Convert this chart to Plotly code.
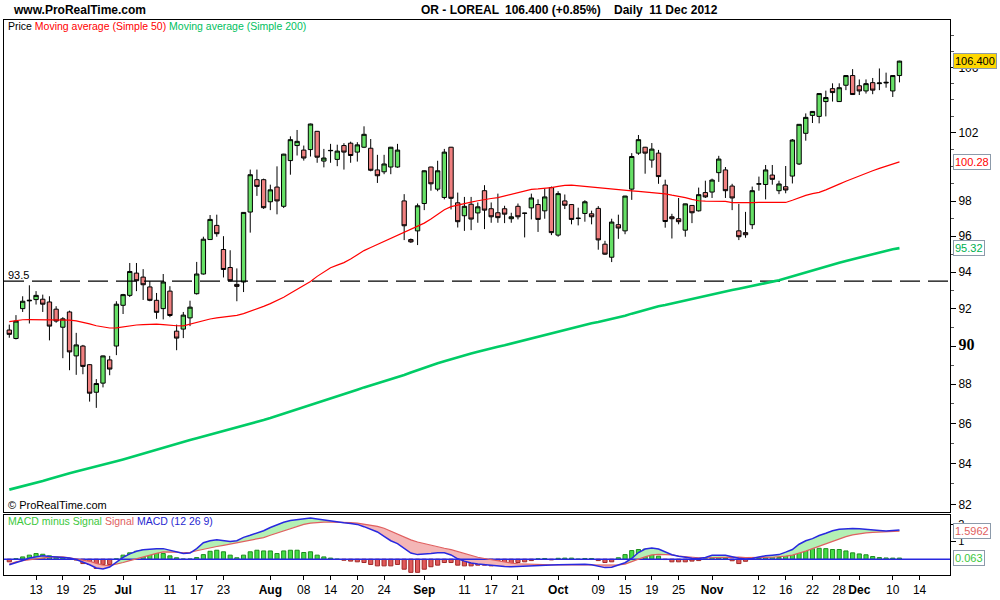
import math
import plotly.graph_objects as go

# ---------------- data ----------------
opens = [90.85, 90.40, 92.00, 92.42, 92.49, 92.51, 92.36, 91.97, 91.00, 91.82,
         89.48, 90.00, 89.02, 87.59, 88.06, 89.27, 90.00, 92.18, 92.72, 93.94,
         93.72, 93.18, 92.45, 92.00, 92.95, 90.79, 90.90, 91.50, 92.81, 93.89,
         95.81, 96.61, 95.25, 94.25, 93.32, 93.45, 97.37, 99.24, 99.24, 97.96,
         98.81, 97.70, 100.36, 101.25, 100.98, 101.01, 102.10, 100.33, 100.94, 100.43,
         101.25, 101.39, 100.86, 101.15, 101.09, 99.81, 99.70, 99.98, 99.98, 98.01,
         95.81, 96.30, 97.86, 99.98, 98.69, 98.21, 101.15, 97.90, 97.16, 97.82,
         97.32, 98.60, 97.56, 97.33, 97.56, 96.99, 97.70, 97.31, 97.61, 97.80,
         97.44, 98.78, 96.06, 98.01, 97.80, 97.00, 97.29, 97.27, 97.58, 95.55,
         94.82, 96.65, 96.30, 98.69, 100.80, 101.15, 100.39, 100.80, 98.93, 97.10,
         96.99, 96.34, 97.75, 97.44, 98.49, 98.52, 99.65, 99.81, 98.87, 96.30,
         96.20, 96.65, 98.98, 98.96, 99.51, 98.60, 98.83, 99.45, 100.16, 101.98,
         103.06, 103.00, 103.90, 104.69, 103.90, 104.90, 105.50, 104.87, 104.55, 105.06,
         105.00, 105.04, 104.55, 105.50]
highs = [91.14, 91.65, 92.67, 93.27, 92.95, 92.76, 92.67, 92.13, 91.54, 91.89,
         90.70, 90.06, 89.05, 88.27, 89.50, 89.48, 92.40, 92.80, 94.50, 94.50,
         94.16, 93.50, 92.85, 93.89, 93.22, 91.14, 91.82, 92.43, 94.56, 95.97,
         97.20, 97.22, 96.00, 95.21, 94.20, 97.36, 99.83, 99.83, 99.30, 98.95,
         100.02, 100.76, 101.80, 102.18, 101.25, 102.56, 102.12, 101.05, 101.35, 101.30,
         101.39, 101.48, 101.45, 102.40, 101.64, 100.70, 100.70, 101.17, 101.35, 98.40,
         95.87, 97.86, 99.78, 100.00, 100.35, 101.05, 101.17, 98.49, 98.24, 98.24,
         97.92, 98.92, 97.92, 98.43, 97.73, 97.33, 97.86, 97.33, 98.43, 98.10,
         98.72, 98.84, 98.57, 98.38, 97.82, 97.62, 98.05, 97.45, 97.71, 95.74,
         96.99, 97.22, 98.30, 100.80, 101.88, 101.17, 101.40, 100.99, 99.24, 97.27,
         98.18, 97.85, 97.76, 98.78, 99.18, 99.30, 100.64, 99.98, 99.00, 97.84,
         97.38, 98.84, 99.42, 100.10, 100.10, 99.18, 100.04, 101.64, 102.53, 103.18,
         103.32, 104.40, 104.57, 105.02, 105.02, 105.52, 105.90, 105.26, 105.26, 105.35,
         105.94, 105.68, 105.52, 106.42]
lows = [90.44, 90.35, 91.82, 91.20, 92.22, 91.82, 90.30, 91.24, 89.36, 88.73,
        88.49, 88.52, 87.11, 86.79, 87.84, 88.47, 89.52, 91.71, 92.63, 92.95,
        92.47, 92.40, 91.45, 91.42, 91.54, 89.78, 90.42, 91.06, 92.76, 93.86,
        95.80, 95.97, 93.70, 93.49, 92.40, 92.90, 96.20, 98.30, 97.55, 97.48,
        97.24, 97.60, 99.53, 100.66, 100.36, 100.60, 100.23, 99.96, 100.23, 100.03,
        99.83, 100.23, 100.30, 101.10, 99.73, 99.05, 99.56, 99.56, 99.94, 95.78,
        95.62, 95.50, 97.48, 98.60, 98.57, 98.10, 97.52, 96.49, 96.30, 96.34,
        96.76, 96.40, 96.76, 96.76, 96.74, 96.76, 96.95, 95.93, 96.95, 96.24,
        96.99, 96.06, 95.97, 97.54, 96.67, 96.61, 96.82, 96.67, 95.24, 94.95,
        94.55, 95.85, 96.11, 98.07, 100.70, 99.59, 99.94, 99.00, 96.48, 95.87,
        96.67, 95.97, 96.74, 97.40, 98.18, 98.18, 99.11, 98.18, 97.48, 95.78,
        95.91, 96.40, 98.60, 98.10, 98.95, 98.40, 98.45, 99.02, 100.10, 101.54,
        102.60, 102.58, 103.00, 103.90, 103.88, 104.60, 104.30, 104.30, 104.39, 104.35,
        104.60, 104.75, 104.18, 105.08]
closes = [90.62, 91.33, 92.40, 92.45, 92.72, 92.24, 91.06, 91.33, 91.45, 89.69,
          90.06, 88.93, 87.54, 88.04, 89.48, 88.79, 92.24, 92.76, 94.03, 93.52,
          93.30, 92.45, 91.80, 93.45, 91.63, 90.42, 91.65, 92.08, 93.89, 95.83,
          96.95, 96.14, 94.14, 93.52, 93.21, 97.35, 99.53, 98.85, 97.62, 98.65,
          98.01, 100.74, 101.60, 101.50, 100.51, 102.54, 100.56, 100.51, 100.96, 100.92,
          100.86, 100.66, 101.29, 101.92, 99.79, 99.47, 100.16, 101.15, 100.98, 96.59,
          95.68, 97.73, 99.76, 99.00, 99.76, 100.86, 98.16, 96.82, 97.70, 96.97,
          97.67, 97.48, 97.10, 97.05, 97.25, 97.10, 97.10, 97.30, 98.18, 96.95,
          98.24, 96.20, 98.43, 97.76, 96.95, 97.02, 97.96, 97.10, 95.79, 94.99,
          96.80, 96.46, 98.29, 100.60, 101.60, 100.80, 101.04, 99.42, 96.83, 96.99,
          96.82, 97.84, 97.33, 98.37, 98.24, 99.22, 100.45, 98.60, 98.18, 95.97,
          96.08, 98.60, 99.00, 99.81, 99.26, 98.99, 98.64, 101.58, 102.52, 102.94,
          103.30, 104.39, 104.15, 104.45, 104.75, 105.50, 104.33, 104.55, 105.00, 104.60,
          105.04, 105.08, 105.50, 106.40]
ma50 = [91.30, 91.36, 91.40, 91.41, 91.41, 91.41, 91.41, 91.40, 91.40, 91.38,
        91.34, 91.28, 91.18, 91.08, 91.00, 90.96, 90.97, 91.03, 91.09, 91.12,
        91.14, 91.16, 91.17, 91.14, 91.10, 91.08, 91.07, 91.17, 91.27, 91.36,
        91.44, 91.50, 91.54, 91.58, 91.64, 91.73, 91.85, 92.00, 92.12, 92.27,
        92.43, 92.62, 92.83, 93.04, 93.24, 93.48, 93.76, 94.02, 94.24, 94.38,
        94.52, 94.72, 94.96, 95.19, 95.36, 95.53, 95.70, 95.88, 96.06, 96.22,
        96.40, 96.55, 96.74, 96.98, 97.22, 97.50, 97.68, 97.78, 97.86, 97.94,
        98.02, 98.10, 98.15, 98.20, 98.30, 98.40, 98.50, 98.62, 98.68, 98.70,
        98.72, 98.78, 98.85, 98.91, 98.92, 98.88, 98.85, 98.82, 98.78, 98.73,
        98.67, 98.64, 98.62, 98.59, 98.56, 98.53, 98.50, 98.47, 98.42, 98.34,
        98.28, 98.20, 98.10, 98.02, 98.00, 97.99, 97.99, 97.98, 97.91, 97.90,
        97.90, 97.91, 97.92, 97.92, 97.92, 97.92, 97.92, 98.05, 98.20, 98.33,
        98.43, 98.50, 98.65, 98.80, 98.98, 99.15, 99.31, 99.47, 99.62, 99.76,
        99.90, 100.04, 100.18, 100.28]
ma200 = [82.72, 82.80, 82.88, 82.96, 83.04, 83.14, 83.24, 83.34, 83.44, 83.52,
         83.60, 83.68, 83.76, 83.84, 83.93, 84.02, 84.11, 84.20, 84.30, 84.40,
         84.50, 84.60, 84.70, 84.80, 84.90, 84.98, 85.08, 85.17, 85.26, 85.35,
         85.43, 85.51, 85.60, 85.68, 85.77, 85.87, 85.97, 86.07, 86.17, 86.27,
         86.38, 86.49, 86.60, 86.70, 86.80, 86.91, 87.02, 87.13, 87.24, 87.36,
         87.48, 87.60, 87.72, 87.84, 87.94, 88.04, 88.14, 88.24, 88.36, 88.48,
         88.61, 88.74, 88.87, 89.00, 89.10, 89.20, 89.31, 89.41, 89.51, 89.60,
         89.70, 89.80, 89.88, 89.96, 90.04, 90.13, 90.22, 90.31, 90.40, 90.49,
         90.58, 90.67, 90.77, 90.86, 90.96, 91.05, 91.14, 91.21, 91.28, 91.36,
         91.44, 91.51, 91.62, 91.73, 91.84, 91.95, 92.06, 92.13, 92.20, 92.28,
         92.36, 92.44, 92.53, 92.62, 92.71, 92.80, 92.87, 92.94, 93.01, 93.08,
         93.15, 93.23, 93.31, 93.39, 93.47, 93.55, 93.66, 93.77, 93.88, 93.99,
         94.10, 94.21, 94.31, 94.41, 94.51, 94.61, 94.71, 94.81, 94.91, 95.00,
         95.09, 95.18, 95.27, 95.33]
macd = [-0.32, -0.22, -0.08, 0.07, 0.15, 0.19, 0.15, 0.13, 0.13, 0.07,
        -0.02, -0.15, -0.32, -0.50, -0.56, -0.45, -0.19, 0.10, 0.30, 0.45,
        0.53, 0.57, 0.60, 0.60, 0.51, 0.40, 0.33, 0.35, 0.60, 0.94,
        1.05, 1.11, 1.06, 1.00, 1.05, 1.24, 1.36, 1.47, 1.62, 1.80,
        1.95, 2.10, 2.20, 2.25, 2.30, 2.34, 2.28, 2.22, 2.17, 2.12,
        2.07, 2.03, 1.98, 1.85, 1.68, 1.55, 1.30, 1.05, 0.89, 0.60,
        0.35, 0.26, 0.27, 0.32, 0.36, 0.37, 0.24, 0.02, -0.11, -0.22,
        -0.27, -0.31, -0.36, -0.40, -0.42, -0.43, -0.42, -0.41, -0.40, -0.37,
        -0.35, -0.33, -0.31, -0.30, -0.29, -0.28, -0.29, -0.32, -0.40, -0.48,
        -0.46, -0.33, -0.20, 0.04, 0.38, 0.58, 0.64, 0.58, 0.40, 0.25,
        0.17, 0.09, 0.05, 0.04, 0.10, 0.22, 0.23, 0.22, 0.14, 0.05,
        0.01, 0.04, 0.12, 0.20, 0.23, 0.26, 0.40, 0.55, 0.85, 1.05,
        1.17, 1.35, 1.48, 1.62, 1.70, 1.74, 1.74, 1.73, 1.71, 1.67,
        1.63, 1.60, 1.62, 1.66]
signal = [-0.28, -0.15, -0.08, -0.03, 0.02, 0.08, 0.12, 0.13, 0.13, 0.08,
          0.02, -0.02, -0.12, -0.24, -0.34, -0.37, -0.30, -0.19, -0.08, 0.03,
          0.12, 0.22, 0.33, 0.42, 0.42, 0.40, 0.36, 0.39, 0.48, 0.57,
          0.64, 0.72, 0.79, 0.86, 0.92, 1.00, 1.09, 1.16, 1.23, 1.36,
          1.48, 1.60, 1.76, 1.88, 1.98, 2.05, 2.09, 2.11, 2.11, 2.11,
          2.10, 2.08, 2.05, 2.00, 1.95, 1.87, 1.76, 1.60, 1.42, 1.25,
          1.10, 0.98, 0.88, 0.78, 0.69, 0.62, 0.54, 0.43, 0.33, 0.21,
          0.11, 0.04, -0.03, -0.10, -0.15, -0.22, -0.26, -0.28, -0.30, -0.32,
          -0.34, -0.32, -0.33, -0.33, -0.32, -0.31, -0.30, -0.30, -0.31, -0.32,
          -0.32, -0.33, -0.28, -0.16, 0.00, 0.13, 0.24, 0.27, 0.27, 0.24,
          0.18, 0.14, 0.10, 0.08, 0.08, 0.09, 0.12, 0.14, 0.14, 0.12,
          0.09, 0.08, 0.08, 0.10, 0.11, 0.12, 0.17, 0.23, 0.33, 0.46,
          0.60, 0.74, 0.88, 1.02, 1.16, 1.28, 1.38, 1.45, 1.50, 1.53,
          1.55, 1.57, 1.59, 1.5962]
hist = [-0.15, 0.03, 0.13, 0.23, 0.32, 0.28, 0.19, 0.13, 0.09, 0.02,
        -0.05, -0.25, -0.30, -0.53, -0.30, -0.30, 0.02, 0.23, 0.36, 0.45,
        0.51, 0.42, 0.36, 0.32, 0.19, 0.08, 0.01, 0.01, 0.09, 0.26,
        0.45, 0.51, 0.42, 0.23, 0.08, 0.23, 0.42, 0.51, 0.47, 0.47,
        0.32, 0.47, 0.51, 0.51, 0.38, 0.42, 0.23, 0.13, 0.06, 0.00,
        -0.06, -0.11, -0.15, -0.19, -0.30, -0.38, -0.38, -0.38, -0.30, -0.57,
        -0.75, -0.75, -0.57, -0.43, -0.34, -0.19, -0.19, -0.34, -0.38, -0.38,
        -0.34, -0.34, -0.38, -0.34, -0.30, -0.25, -0.19, -0.15, -0.08, 0.02,
        0.04, -0.04, 0.05, 0.06, 0.06, 0.00, 0.04, 0.04, -0.08, -0.19,
        -0.15, 0.08, 0.26, 0.49, 0.55, 0.57, 0.42, 0.17, -0.02, -0.15,
        -0.15, -0.15, -0.11, -0.08, 0.02, 0.13, 0.09, 0.06, -0.09, -0.25,
        -0.12, 0.02, 0.06, 0.09, 0.13, 0.10, 0.20, 0.34, 0.47, 0.55,
        0.60, 0.62, 0.60, 0.55, 0.55, 0.47, 0.36, 0.30, 0.25, 0.15,
        0.09, 0.07, 0.06, 0.063]

# x-axis labels (trading-day index -> label)
tick_index = [4, 8, 12, 17, 24, 28, 32, 39, 44, 48, 52, 56, 62, 68, 72, 76, 82, 88,
              92, 96, 100, 105, 112, 116, 120, 124, 127, 132, 136]
tick_labels = ["13", "19", "25", "Jul", "11", "17", "23", "Aug", "08", "14", "20", "24",
               "Sep", "11", "17", "21", "Oct", "09", "15", "19", "25", "Nov", "12", "16",
               "22", "28", "Dec", "10", "14"]
month_labels = ["Jul", "Aug", "Sep", "Oct", "Nov", "Dec"]
price_ticks = [82, 84, 86, 88, 90, 92, 94, 96, 98, 102, 106]
price_minor = [83, 85, 87, 89, 91, 93, 95, 97, 99, 100, 101, 103, 104, 105, 107, 108]
hline_level = 93.5
last_price = 106.400
last_ma50 = 100.28
last_ma200 = 95.32
last_signal = 1.5962
last_hist = 0.063

idx = list(range(len(closes)))

# ---------------- layout helpers (pixel -> paper) ----------------
L, R, T, B = 3, 950, 20, 580
def fx(px):
    return (px - L) / (R - L)
def fy(py):
    return (B - py) / (B - T)

FONT = "Liberation Sans, Arial, sans-serif"
GREEN_C = "#66E066"
RED_C = "#F08080"
MA200_C = "#00CC66"

fig = go.Figure()

# ---- price panel ----
fig.add_trace(go.Scatter(x=[-0.79, 140.55], y=[hline_level, hline_level], mode="lines",
                         line=dict(color="black", width=1.2, dash="20px,8px"),
                         xaxis="x", yaxis="y", hoverinfo="skip"))
fig.add_trace(go.Scatter(x=idx, y=ma200, mode="lines", line=dict(color=MA200_C, width=2.6),
                         xaxis="x", yaxis="y"))
fig.add_trace(go.Scatter(x=idx, y=ma50, mode="lines", line=dict(color="#FF0000", width=1.2),
                         xaxis="x", yaxis="y"))
fig.add_trace(go.Candlestick(
    x=idx, open=opens, high=highs, low=lows, close=closes,
    increasing=dict(fillcolor=GREEN_C, line=dict(color="black", width=1)),
    decreasing=dict(fillcolor=RED_C, line=dict(color="black", width=1)),
    whiskerwidth=0, xaxis="x", yaxis="y"))

# ---- MACD panel ----
def fill_runs(xs, a, b):
    runs = []
    cx, ca, cb = [xs[0]], [a[0]], [b[0]]
    sign = a[0] >= b[0]
    for k in range(1, len(xs)):
        s = a[k] >= b[k]
        if s != sign:
            d0 = a[k - 1] - b[k - 1]
            d1 = a[k] - b[k]
            t = d0 / (d0 - d1) if d0 != d1 else 0.5
            xc = xs[k - 1] + t * (xs[k] - xs[k - 1])
            yc = a[k - 1] + t * (a[k] - a[k - 1])
            cx.append(xc); ca.append(yc); cb.append(yc)
            runs.append((sign, cx, ca, cb))
            cx, ca, cb = [xc], [yc], [yc]
            sign = s
        cx.append(xs[k]); ca.append(a[k]); cb.append(b[k])
    runs.append((sign, cx, ca, cb))
    return runs

for up, rx, ra, rb in fill_runs(idx, macd, signal):
    fig.add_trace(go.Scatter(x=rx + rx[::-1], y=ra + rb[::-1], mode="lines", fill="toself",
                             fillcolor="#B4F0B4" if up else "#F4B6B6",
                             line=dict(width=0), xaxis="x2", yaxis="y2", hoverinfo="skip"))

fig.add_trace(go.Bar(x=idx, y=hist, width=0.62,
                     marker=dict(color=["#44DD44" if v >= 0 else "#E05A5A" for v in hist],
                                 line=dict(color=["#1E8E1E" if v >= 0 else "#A02828" for v in hist],
                                           width=1)),
                     xaxis="x2", yaxis="y2"))
fig.add_trace(go.Scatter(x=[-0.79, 140.55], y=[0, 0], mode="lines",
                         line=dict(color="#2828E0", width=1.5), xaxis="x2", yaxis="y2"))
fig.add_trace(go.Scatter(x=idx, y=signal, mode="lines", line=dict(color="#E06060", width=1.2),
                         xaxis="x2", yaxis="y2"))
fig.add_trace(go.Scatter(x=idx, y=macd, mode="lines", line=dict(color="#2828E0", width=1.5),
                         xaxis="x2", yaxis="y2"))

# ---------------- axes ----------------
price_text = []
for v in price_ticks:
    if v == 90:
        price_text.append('<span style="font-size:16px;font-family:Liberation Serif"><b>90</b></span>')
    else:
        price_text.append(str(v))

xt = ["<b>%s</b>" % t if t in month_labels else t for t in tick_labels]

top_dom = fy(516)
macd_dom = fy(519)

fig.update_layout(
    width=1000, height=600,
    margin=dict(l=L, r=1000 - R, t=T, b=600 - B),
    paper_bgcolor="white", plot_bgcolor="white",
    showlegend=False,
    boxgap=0.35, boxgroupgap=0.0,
    font=dict(family=FONT, size=12, color="black"),
    xaxis=dict(domain=[0, 1], anchor="y", range=[-0.79, 140.55], showticklabels=False,
               showline=True, mirror=True, linecolor="black", linewidth=1, ticks="",
               showgrid=False, zeroline=False, rangeslider=dict(visible=False)),
    xaxis2=dict(domain=[0, 1], anchor="y2", matches="x", range=[-0.79, 140.55],
                tickmode="array", tickvals=tick_index, ticktext=xt,
                ticks="outside", ticklen=4, tickcolor="black",
                tickfont=dict(size=12, color="black", family=FONT),
                showline=True, mirror=True, linecolor="black", linewidth=1,
                showgrid=False, zeroline=False, rangeslider=dict(visible=False)),
    yaxis=dict(domain=[top_dom, 1], anchor="x", side="right", type="log",
               range=[math.log10(81.66), math.log10(109.0)],
               tickmode="array", tickvals=price_ticks, ticktext=price_text,
               ticks="outside", ticklen=5, tickcolor="black",
               minor=dict(tickmode="array", tickvals=price_minor, ticks="outside",
                          ticklen=3, tickcolor="#555555"),
               tickfont=dict(size=12, color="black", family=FONT),
               showline=True, mirror=True, linecolor="black", linewidth=1,
               showgrid=False, zeroline=False),
    yaxis2=dict(domain=[0, macd_dom], anchor="x2", side="right", range=[-0.90, 2.54],
                tickmode="array", tickvals=[1, 2], ticktext=["1", "2"],
                ticks="outside", ticklen=5, tickcolor="black",
                tickfont=dict(size=11, color="black", family=FONT),
                showline=True, mirror=True, linecolor="black", linewidth=1,
                showgrid=False, zeroline=False),
)

ann = []
def text(px, py, s, size=11, bold=False, color="black", anchor="left"):
    ann.append(dict(xref="paper", yref="paper", x=fx(px), y=fy(py), text=("<b>%s</b>" % s) if bold else s,
                    showarrow=False, xanchor=anchor, yanchor="middle",
                    font=dict(family=FONT, size=size, color=color)))

text(10, 10, "www.ProRealTime.com", size=12, bold=True)
text(418, 10, "OR - LOREAL", size=12, bold=True)
text(503, 10, "106.400 (+0.85%)", size=12, bold=True)
text(612, 10, "Daily&nbsp;&nbsp;11 Dec 2012", size=12, bold=True)
text(5, 26, 'Price <span style="color:#FF0000">Moving average (Simple 50)</span> '
            '<span style="color:#00C060">Moving average (Simple 200)</span>', size=10.5)
text(5, 509, "© ProRealTime.com", size=11)
text(5, 277, "93.5", size=11)
text(5, 526, '<span style="color:#3CC83C">MACD minus Signal</span> '
             '<span style="color:#E06060">Signal</span> '
             '<span style="color:#2828D0">MACD (12 26 9)</span>', size=10.5)

def box(yref, yval, s, fg, bg):
    ann.append(dict(xref="paper", yref=yref, x=1, y=yval, text=s, showarrow=False,
                    xanchor="left", yanchor="middle", xshift=3,
                    font=dict(family=FONT, size=11, color=fg), bgcolor=bg,
                    bordercolor="#8C9AAA", borderwidth=1, borderpad=1))

box("y", math.log10(last_price), "%.3f" % last_price, "black", "#FFD700")
box("y", math.log10(last_ma50), "%.2f" % last_ma50, "#FF0000", "white")
box("y", math.log10(last_ma200), "%.2f" % last_ma200, "#00B050", "white")
box("y2", last_signal, "%.4f" % last_signal, "#E06060", "white")
box("y2", last_hist, "%.3f" % last_hist, "#3CC83C", "white")

fig.update_layout(annotations=ann)

fig.write_html("out.html", config={"displayModeBar": False},
               post_script="document.body.style.margin='0px';document.body.style.padding='0px';")
